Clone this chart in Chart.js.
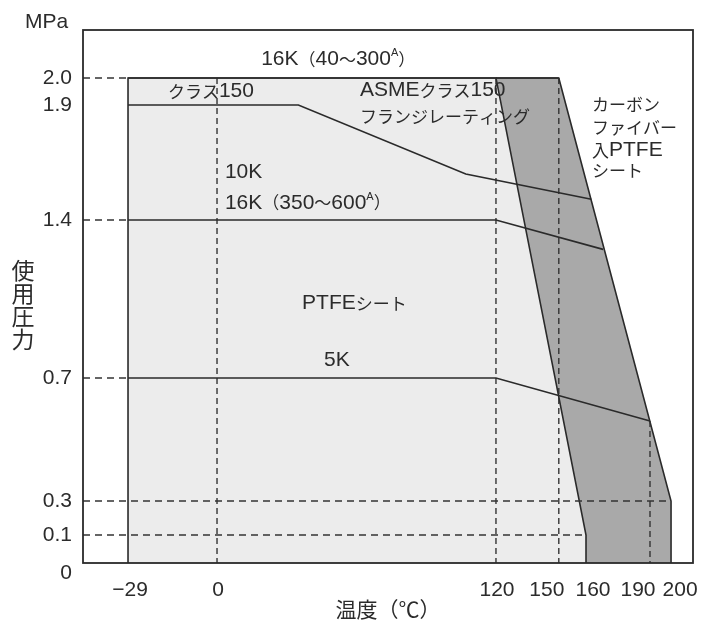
<!DOCTYPE html>
<html>
<head>
<meta charset="utf-8">
<script src="https://cdn.jsdelivr.net/npm/chart.js@4.4.1/dist/chart.umd.min.js"></script>
<style>
  html, body { margin: 0; padding: 0; background: #ffffff; }
  #wrap { width: 702px; height: 623px; }
</style>
</head>
<body>
<div id="wrap"><canvas id="c" width="702" height="623"></canvas></div>
<script>
// ================= DATA =================
// Axis ticks (schematic, not to scale)
const xTicks      = [-29, 0, 120, 150, 160, 190, 200];
const xTickLabels = ['\u221229', '0', '120', '150', '160', '190', '200'];
const yTicks      = [0, 0.1, 0.3, 0.7, 1.4, 1.9, 2.0];
const yTickLabels = ['0', '0.1', '0.3', '0.7', '1.4', '1.9', '2.0'];

// PTFEシート usable region (temperature °C / pressure MPa)
const ptfeTemp  = [-29, -29, 120, 160, 160];
const ptfePress = [0, 2.0, 2.0, 0.1, 0];
// カーボンファイバー入PTFEシート outer boundary
const carbonTemp  = [120, 150, 200, 200];
const carbonPress = [2.0, 2.0, 0.3, 0];
// 16K (40~300A)
const k16Temp  = [-29, 150];
const k16Press = [2.0, 2.0];
// ASMEクラス150 flange rating
const asmeTemp  = [-29, 35, 107, 162.5];
const asmePress = [1.9, 1.9, 1.6, 1.49];
// 10K / 16K (350~600A)
const k10Temp  = [-29, 120, 168];
const k10Press = [1.4, 1.4, 1.27];
// 5K
const k5Temp  = [-29, 120, 190];
const k5Press = [0.7, 0.7, 0.56];

// dashed guide lines
const hGuidePress   = [2.0, 1.4, 0.7, 0.3, 0.1];
const hGuideEndTemp = [-29, -29, -29, 200, 160];
const vGuideTemp     = [0, 120, 150, 190];
const vGuideTopPress = [2.0, 2.0, 2.0, 0.56];

// in-plot annotations (anchored at temperature / pressure)
const noteTexts = ['16K\uFF0840\uFF5E300^A\uFF09', 'クラス150', 'ASMEクラス150', 'フランジレーティング',
                   'カーボン', 'ファイバー', '入PTFE', 'シート',
                   '10K', '16K\uFF08350\uFF5E600^A\uFF09', 'PTFEシート', '5K'];
const noteTemps = [19, -16, 61.5, 61.5, 162.8, 162.8, 162.8, 162.8, 3.4, 3.4, 36.6, 46];
const notePress = [2.07, 1.95, 1.955, 1.848, 1.9, 1.8, 1.704, 1.613, 1.609, 1.474, 1.032, 0.78];

// ================= LAYOUT (schematic axis spacing) =================
const xAnchorValues = [-44, -29, 0, 120, 150, 160, 190, 200, 210];
const xAnchorPos    = [0, 0.0738, 0.2197, 0.677, 0.780, 0.8246, 0.9295, 0.964, 1];
const yAnchorValues = [0, 0.1, 0.3, 0.7, 1.4, 1.9, 2.0, 2.18];
const yAnchorPos    = [0, 0.0525, 0.1163, 0.3471, 0.6435, 0.8593, 0.91, 1];
const xLabelShift = [2, 1, 1, -12, 7, -12, 9];
const yLabelShift = [10, 0, 0, 0, 0, 0, 0];

const FONT_LAT = "'Liberation Sans', Arial, sans-serif";
const FONT_CJK = "'Noto Sans CJK JP', 'Noto Sans CJK SC', sans-serif";
const TEXT = '#2b2b2b';
const LINE = '#2a2a2a';

function interp(v, xs, ys) {
  const n = xs.length;
  let i = 0;
  if (v <= xs[0]) i = 0;
  else if (v >= xs[n - 1]) i = n - 2;
  else { while (i < n - 2 && v > xs[i + 1]) i++; }
  return ys[i] + (v - xs[i]) * (ys[i + 1] - ys[i]) / (xs[i + 1] - xs[i]);
}

class PiecewiseScale extends Chart.LinearScale {
  getPixelForValue(value) {
    if (value === null || value === undefined || isNaN(value)) return NaN;
    const o = this.options;
    return this.getPixelForDecimal(interp(value, o.anchorValues, o.anchorPos));
  }
  getValueForPixel(pixel) {
    const o = this.options;
    return interp(this.getDecimalForPixel(pixel), o.anchorPos, o.anchorValues);
  }
  getPixelForTick(index) {
    const t = this.ticks[index];
    if (!t) return NaN;
    const sh = (this.options.labelShift || [])[index] || 0;
    return this.getPixelForValue(t.value) + sh;
  }
}
PiecewiseScale.id = 'piecewise';
PiecewiseScale.defaults = {};
Chart.register(PiecewiseScale);

const zip = (xs, ys) => xs.map((x, i) => ({ x: x, y: ys[i] }));

function lineDs(data, opts) {
  return Object.assign({
    data: data, showLine: true, pointRadius: 0, borderColor: LINE,
    borderWidth: 1.6, fill: false, tension: 0, backgroundColor: 'transparent'
  }, opts || {});
}

const datasets = [];
datasets.push(lineDs(zip(asmeTemp, asmePress), { label: 'ASMEクラス150' }));
datasets.push(lineDs(zip(k10Temp, k10Press), { label: '10K' }));
datasets.push(lineDs(zip(k5Temp, k5Press), { label: '5K' }));
datasets.push(lineDs(zip(k16Temp, k16Press), { label: '16K' }));
hGuidePress.forEach((p, i) => {
  datasets.push(lineDs([{ x: xAnchorValues[0], y: p }, { x: hGuideEndTemp[i], y: p }],
    { borderDash: [7, 5], borderWidth: 1.4, borderColor: '#333' }));
});
vGuideTemp.forEach((t, i) => {
  datasets.push(lineDs([{ x: t, y: vGuideTopPress[i] }, { x: t, y: 0 }],
    { borderDash: [6, 4], borderWidth: 1.4, borderColor: '#333' }));
});
datasets.push(lineDs(zip(ptfeTemp, ptfePress), { label: 'PTFEシート', fill: 'origin', backgroundColor: '#ececec' }));
datasets.push(lineDs(zip(carbonTemp, carbonPress), { label: 'カーボンファイバー入PTFEシート', fill: 'origin', backgroundColor: '#a9a9a9' }));

function drawMixed(ctx, text, x, y) {
  let cx = x;
  const re = /\^.|[\u3000-\u9fff\uff00-\uffef]+|[^\u3000-\u9fff\uff00-\uffef^]+/g;
  const runs = text.match(re) || [];
  for (const r of runs) {
    if (r[0] === '^') {
      ctx.font = '11px ' + FONT_LAT;
      ctx.fillText(r.slice(1), cx, y - 6);
      cx += ctx.measureText(r.slice(1)).width;
      continue;
    }
    const cjk = /[\u3000-\u9fff\uff00-\uffef]/.test(r);
    ctx.font = cjk ? ('17px ' + FONT_CJK) : ('21px ' + FONT_LAT);
    ctx.fillText(r, cx, y);
    cx += ctx.measureText(r).width;
  }
}

const decoPlugin = {
  id: 'deco',
  afterDatasetsDraw(chart) {
    const { ctx, chartArea: a } = chart;
    ctx.save();
    ctx.strokeStyle = LINE;
    ctx.lineWidth = 1.8;
    ctx.strokeRect(a.left, a.top, a.right - a.left, a.bottom - a.top);
    ctx.restore();
  },
  afterDraw(chart) {
    const { ctx } = chart;
    const xs = chart.scales.x, ys = chart.scales.y;
    ctx.save();
    ctx.fillStyle = TEXT;
    ctx.textBaseline = 'middle';
    ctx.textAlign = 'left';
    noteTexts.forEach((t, i) => {
      drawMixed(ctx, t, xs.getPixelForValue(noteTemps[i]), ys.getPixelForValue(notePress[i]));
    });
    // unit
    ctx.font = '21px ' + FONT_LAT;
    ctx.fillText('MPa', 25, 22);
    // vertical axis title
    ctx.font = '23px ' + FONT_CJK;
    ctx.textAlign = 'center';
    const title = '使用圧力';
    for (let i = 0; i < title.length; i++) {
      ctx.fillText(title[i], 23, 270 + i * 23);
    }
    ctx.restore();
  }
};

new Chart(document.getElementById('c'), {
  type: 'scatter',
  data: { datasets: datasets },
  options: {
    responsive: false,
    animation: false,
    events: [],
    layout: { padding: { left: 0, right: 9, top: 30, bottom: 0 } },
    plugins: { legend: { display: false }, tooltip: { enabled: false } },
    scales: {
      x: {
        type: 'piecewise',
        min: xAnchorValues[0], max: xAnchorValues[xAnchorValues.length - 1],
        anchorValues: xAnchorValues, anchorPos: xAnchorPos, labelShift: xLabelShift,
        bounds: 'data',
        grid: { display: false, drawTicks: false },
        border: { display: false },
        afterBuildTicks: s => { s.ticks = xTicks.map(v => ({ value: v })); },
        afterFit: s => { s.height = 60; s.paddingLeft = 0; s.paddingRight = 0; },
        ticks: {
          autoSkip: false, maxRotation: 0, minRotation: 0, padding: 15,
          color: TEXT, font: { family: FONT_LAT, size: 21 },
          callback: (v, i) => xTickLabels[i]
        },
        title: {
          display: true, text: '温度（℃）', color: TEXT,
          font: { family: FONT_CJK, size: 21 }, padding: { top: 0, bottom: 1 }
        }
      },
      y: {
        type: 'piecewise',
        min: yAnchorValues[0], max: yAnchorValues[yAnchorValues.length - 1],
        anchorValues: yAnchorValues, anchorPos: yAnchorPos, labelShift: yLabelShift,
        bounds: 'data',
        grid: { display: false, drawTicks: false },
        border: { display: false },
        afterBuildTicks: s => { s.ticks = yTicks.map(v => ({ value: v })); },
        afterFit: s => { s.width = 83; s.paddingTop = 0; s.paddingBottom = 0; },
        ticks: {
          autoSkip: false, padding: 11,
          color: TEXT, font: { family: FONT_LAT, size: 21 },
          callback: (v, i) => yTickLabels[i]
        }
      }
    }
  },
  plugins: [decoPlugin]
});
</script>
</body>
</html>
